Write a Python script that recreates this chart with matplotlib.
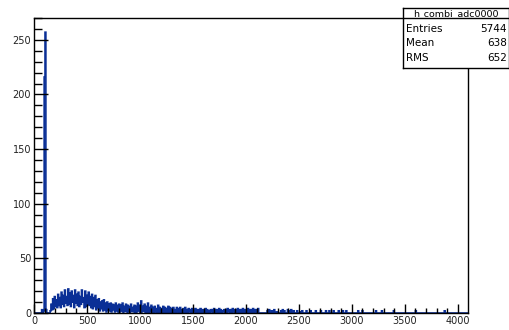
import matplotlib
matplotlib.use("Agg")
import matplotlib.pyplot as plt
from matplotlib.ticker import MultipleLocator
import numpy as np

plt.rcParams['font.family'] = ['DejaVu Sans']

# Histogram: 512 bins of width 8 over 0..4096
bin_width = 8
x_min, x_max = 0, 4096
counts = [
    0, 0, 0, 0, 0, 0, 0, 0, 0, 3,
    0, 2, 216, 257, 3, 0, 0, 0, 0, 2,
    8, 3, 13, 4, 15, 6, 12, 5, 17, 7,
    14, 5, 19, 8, 16, 6, 21, 9, 15, 7,
    22, 8, 18, 6, 20, 10, 16, 5, 21, 9,
    17, 7, 19, 6, 15, 8, 21, 10, 14, 5,
    20, 6, 16, 8, 19, 7, 15, 5, 17, 4,
    14, 6, 16, 3, 12, 5, 13, 2, 10, 4,
    11, 2, 12, 3, 9, 1, 10, 3, 8, 2,
    9, 1, 8, 3, 7, 1, 9, 2, 7, 1,
    8, 1, 7, 2, 9, 0, 6, 2, 8, 1,
    7, 1, 6, 0, 8, 2, 5, 1, 7, 0,
    6, 1, 9, 2, 7, 0, 11, 1, 6, 2,
    8, 0, 6, 1, 9, 0, 5, 1, 7, 0,
    5, 0, 6, 1, 4, 0, 7, 0, 5, 1,
    4, 0, 6, 0, 5, 1, 4, 0, 6, 0,
    5, 0, 4, 1, 5, 0, 3, 0, 5, 1,
    4, 0, 5, 0, 3, 1, 4, 0, 5, 0,
    3, 0, 4, 1, 3, 0, 4, 0, 3, 1,
    4, 0, 3, 0, 3, 1, 4, 0, 3, 0,
    3, 1, 4, 0, 3, 0, 2, 0, 3, 1,
    3, 0, 4, 0, 3, 1, 3, 0, 4, 0,
    3, 0, 2, 1, 3, 0, 3, 0, 4, 1,
    3, 0, 3, 0, 4, 1, 3, 0, 3, 0,
    4, 1, 3, 0, 3, 0, 4, 1, 3, 0,
    3, 0, 4, 1, 3, 0, 3, 1, 4, 0,
    3, 1, 3, 0, 4, 0, 0, 0, 0, 0,
    0, 0, 0, 0, 0, 2, 0, 3, 0, 0,
    2, 0, 0, 3, 0, 0, 1, 0, 0, 0,
    0, 2, 0, 3, 0, 2, 0, 0, 0, 3,
    0, 2, 0, 3, 0, 0, 2, 0, 0, 0,
    2, 0, 0, 0, 1, 0, 2, 0, 0, 0,
    0, 2, 0, 0, 0, 0, 2, 0, 0, 0,
    0, 0, 2, 0, 0, 0, 0, 0, 2, 0,
    0, 0, 0, 0, 2, 0, 0, 0, 2, 0,
    0, 0, 0, 2, 0, 0, 0, 0, 0, 2,
    0, 0, 0, 0, 2, 0, 0, 0, 2, 0,
    0, 0, 0, 0, 0, 0, 0, 0, 0, 0,
    0, 0, 2, 0, 0, 0, 0, 2, 0, 0,
    0, 0, 0, 0, 0, 0, 0, 0, 0, 0,
    0, 0, 0, 2, 0, 0, 0, 0, 0, 0,
    2, 0, 0, 0, 0, 0, 0, 0, 0, 0,
    0, 0, 0, 0, 2, 0, 0, 0, 0, 0,
    0, 0, 0, 0, 0, 0, 0, 0, 0, 0,
    0, 0, 0, 0, 0, 0, 0, 0, 0, 0,
    2, 0, 0, 0, 0, 0, 0, 0, 0, 0,
    0, 0, 0, 0, 0, 0, 0, 0, 0, 0,
    0, 0, 0, 0, 0, 0, 0, 0, 0, 0,
    0, 0, 0, 0, 2, 0, 0, 0, 0, 0,
    0, 0, 0, 0, 0, 0, 0, 0, 0, 0,
    0, 0, 0, 0, 0, 0, 0, 0, 0, 0,
    0, 0,
]
hist_name = "h_combi_adc0000"
stat_labels = ["Entries", "Mean", "RMS"]
stat_values = ["5744", "638", "652"]
y_max = 270

edges = np.arange(x_min, x_min + bin_width * (len(counts) + 1), bin_width)

W, H = 510, 330
fig = plt.figure(figsize=(W / 100, H / 100), dpi=100)
ax = fig.add_axes([34 / W, 1 - 313 / H, (468 - 34) / W, (313 - 18) / H])

ax.stairs(counts, edges, color='#0a2f96', lw=1.2, baseline=0)
ax.set_xlim(x_min, x_max)
ax.set_ylim(0, y_max)

ax.xaxis.set_major_locator(MultipleLocator(500))
ax.xaxis.set_minor_locator(MultipleLocator(100))
ax.yaxis.set_major_locator(MultipleLocator(50))
ax.yaxis.set_minor_locator(MultipleLocator(10))
ax.tick_params(axis='y', which='major', direction='in', length=10, width=1, labelsize=7, pad=2)
ax.tick_params(axis='y', which='minor', direction='in', length=5.5, width=1)
ax.tick_params(axis='x', which='major', direction='in', length=6.5, width=1, labelsize=7, pad=2)
ax.tick_params(axis='x', which='minor', direction='in', length=3.3, width=1)
for lab in ax.get_xticklabels() + ax.get_yticklabels():
    lab.set_color('#222222')
for s in ax.spines.values():
    s.set_linewidth(1.0)
    s.set_color('black')

# Stats box
bx0, bx1, by0, by1 = 403, 509, 8, 68
box = fig.add_axes([bx0 / W, 1 - by1 / H, (bx1 - bx0) / W, (by1 - by0) / H])
box.set_xlim(0, bx1 - bx0)
box.set_ylim(by1 - by0, 0)
box.set_xticks([])
box.set_yticks([])
for s in box.spines.values():
    s.set_linewidth(1.0)
box.set_facecolor('white')
box.axhline(10, color='black', lw=1.0)
box.text((bx1 - bx0) / 2, 5.2, hist_name, ha='center', va='center', fontsize=6.8)
row_y = [21, 35.5, 50]
for lbl, val, yy in zip(stat_labels, stat_values, row_y):
    box.text(3, yy, lbl, ha='left', va='center', fontsize=7.5)
    box.text(bx1 - bx0 - 2, yy, val, ha='right', va='center', fontsize=7.5)

fig.savefig("out.png", dpi=100)
